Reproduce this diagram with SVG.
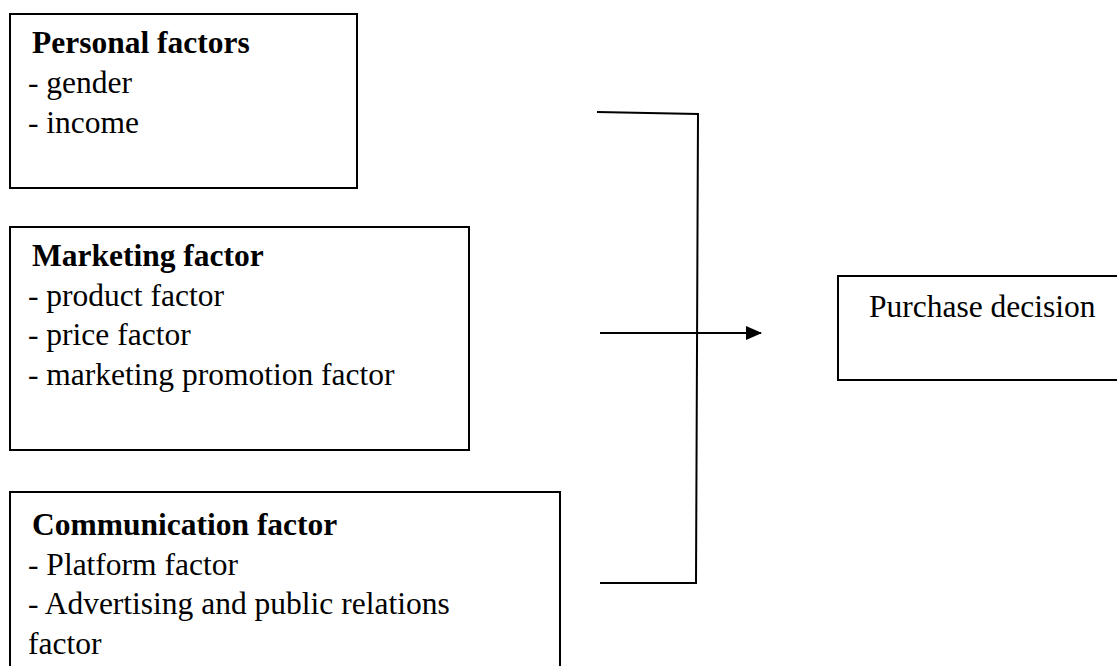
<svg xmlns="http://www.w3.org/2000/svg" width="1117" height="666" viewBox="0 0 1117 666">
<defs>
<style>
.box{fill:#fff;stroke:#000;stroke-width:2}
.t{font-family:"Liberation Serif","Times New Roman",serif;font-size:31.5px;fill:#000}
.b{font-weight:bold}
.ln{fill:none;stroke:#000;stroke-width:2}
</style>
<marker id="arr" markerWidth="16" markerHeight="14" refX="15" refY="7" orient="auto" markerUnits="userSpaceOnUse">
<path d="M0,0 L16,7 L0,14 Z" fill="#000"/>
</marker>
</defs>
<rect width="1117" height="666" fill="#fff"/>
<g id="personal">
<rect class="box" x="10" y="14" width="347" height="174"/>
<text class="t b" x="32" y="53">Personal factors</text>
<text class="t" x="28" y="93">- gender</text>
<text class="t" x="28" y="133">- income</text>
</g>
<g id="marketing">
<rect class="box" x="10" y="227" width="459" height="223"/>
<text class="t b" x="32" y="266">Marketing factor</text>
<text class="t" x="28" y="306">- product factor</text>
<text class="t" x="28" y="345">- price factor</text>
<text class="t" x="28" y="385">- marketing promotion factor</text>
</g>
<g id="communication">
<rect class="box" x="10" y="492" width="550" height="190"/>
<text class="t b" x="32" y="535">Communication factor</text>
<text class="t" x="28" y="575">- Platform factor</text>
<text class="t" x="28" y="614">- Advertising and public relations</text>
<text class="t" x="28" y="654">factor</text>
</g>
<g id="purchase">
<rect class="box" x="838" y="276" width="300" height="104"/>
<text class="t" x="869" y="317">Purchase decision</text>
</g>
<g id="connectors">
<polyline class="ln" points="597,112 698,114 696,583 600,583"/>
<line class="ln" x1="600" y1="333" x2="761" y2="333" marker-end="url(#arr)"/>
</g>
</svg>
